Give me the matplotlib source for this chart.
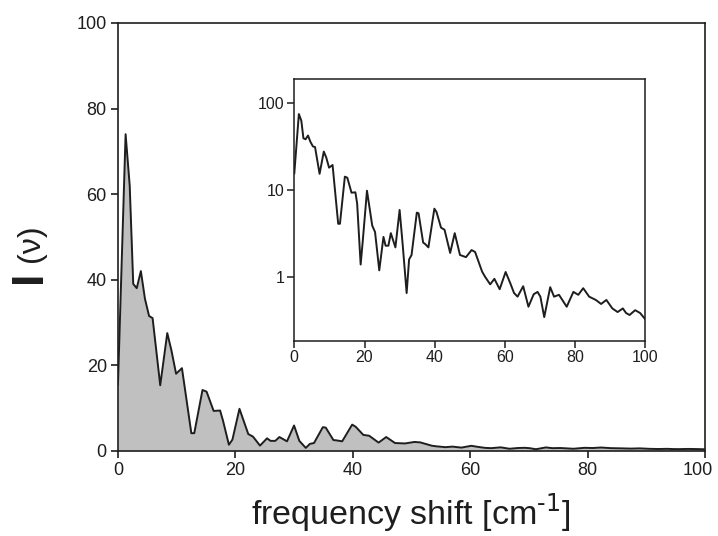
import matplotlib
matplotlib.use("Agg")
import matplotlib.pyplot as plt
import matplotlib.transforms as mtransforms
import numpy as np

# spectrum (same data in main panel and log inset)
shift = [0.0, 1.3, 2.0, 2.6, 3.2, 3.9, 4.6, 5.3, 5.9, 7.2,
         8.4, 9.1, 9.9, 10.9, 12.5, 13.0, 14.4, 15.1, 16.3, 17.4,
         17.9, 18.9, 19.5, 20.7, 22.2, 23.0, 24.2, 25.4, 26.0, 26.8,
         27.5, 28.8, 30.0, 30.9, 32.0, 32.7, 33.4, 34.9, 35.4, 36.7,
         37.3, 38.2, 39.9, 40.5, 41.8, 42.8, 44.4, 45.7, 47.2, 48.9,
         50.5, 51.5, 53.5, 54.3, 55.8, 57.0, 58.5, 60.2, 61.5, 62.6,
         63.6, 65.2, 66.7, 68.2, 69.3, 70.1, 71.2, 72.9, 74.0, 75.4,
         77.6, 79.5, 80.9, 82.3, 84.0, 85.9, 87.4, 88.9, 90.6, 92.1,
         93.6, 94.5, 95.5, 97.1, 98.5, 100.0]
intensity = [15.5, 74.0, 62.0, 39.0, 38.0, 42.0, 35.5, 31.5, 31.0, 15.3,
             27.5, 23.5, 18.0, 19.3, 4.1, 4.1, 14.2, 13.8, 9.3, 9.4,
             7.0, 1.4, 2.6, 9.8, 3.9, 3.3, 1.2, 2.9, 2.3, 2.3,
             3.2, 2.2, 5.9, 2.3, 0.66, 1.6, 1.8, 5.5, 5.4, 2.5,
             2.4, 2.2, 6.1, 5.6, 3.7, 3.5, 1.9, 3.2, 1.8, 1.7,
             2.05, 1.95, 1.16, 1.02, 0.83, 0.96, 0.73, 1.15, 0.86, 0.66,
             0.6, 0.79, 0.46, 0.64, 0.68, 0.6, 0.35, 0.77, 0.6, 0.63,
             0.46, 0.68, 0.63, 0.75, 0.6, 0.55, 0.495, 0.55, 0.44, 0.4,
             0.44, 0.39, 0.37, 0.42, 0.39, 0.33]

main_yticks = [0, 20, 40, 60, 80, 100]
xticks = [0, 20, 40, 60, 80, 100]
inset_yticks = [1, 10, 100]

plt.rcParams["font.family"] = ["Liberation Sans", "DejaVu Sans"]
ink = "#1e1e1e"

fig = plt.figure(figsize=(7.18, 5.36), dpi=100)

ax = fig.add_axes([0.1643, 0.1591, 0.8175, 0.798])
ax.fill_between(shift, 0, intensity, color="#c0c0c0", lw=0)
ax.plot(shift, intensity, color=ink, lw=1.4)
ax.set_xlim(0, 100)
ax.set_ylim(0, 100)
ax.set_xticks(xticks)
ax.set_yticks(main_yticks)
ax.tick_params(direction="out", length=5, width=1.2, labelsize=13, colors=ink, pad=3)
for s in ax.spines.values():
    s.set_linewidth(1.2)
    s.set_color(ink)
# keep the last x label inside the figure edge
last = ax.xaxis.get_major_ticks()[-1].label1
last.set_transform(last.get_transform()
                   + mtransforms.ScaledTranslation(-5 / 72, 0, fig.dpi_scale_trans))

# inset, log scale
axi = fig.add_axes([0.4099, 0.3644, 0.4889, 0.4877])
axi.plot(shift, intensity, color=ink, lw=1.4)
axi.set_yscale("log")
axi.set_xlim(0, 100)
axi.set_ylim(0.188, 185)
axi.set_xticks(xticks)
axi.set_yticks(inset_yticks)
axi.set_yticklabels([str(t) for t in inset_yticks])
axi.yaxis.set_minor_locator(matplotlib.ticker.NullLocator())
axi.tick_params(direction="out", length=5, width=1.1, labelsize=11.5, colors=ink, pad=2)
for s in axi.spines.values():
    s.set_linewidth(1.1)
    s.set_color(ink)

fig.text(0.572, 1 - 513 / 536, r"frequency shift [cm$^{\text{-1}}$]",
         ha="center", va="center", fontsize=24.5, color=ink)
fig.text(30 / 718, 1 - 277 / 536, "I", rotation=90, ha="center", va="center",
         fontsize=32, fontweight="bold", color=ink)
fig.text(31 / 718, 1 - 243 / 536, "(\u03bd)", rotation=90, ha="center", va="center",
         fontsize=23, color=ink)

fig.savefig("out.png", dpi=100)
